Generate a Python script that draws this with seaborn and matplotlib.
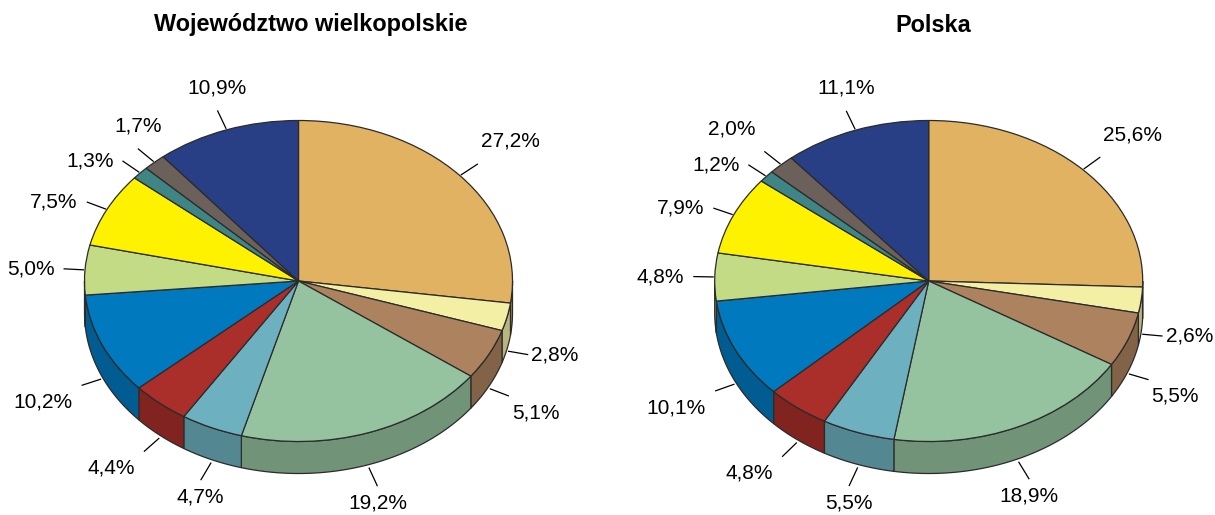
import numpy as np
import matplotlib
matplotlib.use('Agg')
import matplotlib.pyplot as plt
import seaborn as sns
from matplotlib.colors import to_rgb

W, H = 1215, 515

# data
titles = ['Województwo wielkopolskie', 'Polska']
wielkopolskie = [27.2, 2.8, 5.1, 19.2, 4.7, 4.4, 10.2, 5.0, 7.5, 1.3, 1.7, 10.9]
polska = [25.6, 2.6, 5.5, 18.9, 5.5, 4.8, 10.1, 4.8, 7.9, 1.2, 2.0, 11.1]
colors = ['#E1B261', '#F3EFA4', '#AD825E', '#95C39F', '#6DB1C0', '#AA2E29',
          '#0079BF', '#C3DB84', '#FFF200', '#3F8585', '#6C615A', '#283E85']

sns.set_style('white')
plt.rcParams['font.family'] = ['Liberation Sans', 'DejaVu Sans']

# pie geometry in pixels
RX, RY, DEPTH = 214.0, 160.5, 32.0
CY = 281
LEAD = 20.5
EDGE = '#2b2b2b'
panels = [(0, 607, 298.5, 311), (607, 1215, 928.7, 933.5)]

# a few labels were moved by hand in the original to avoid overlaps
overrides = [{9: ('right', 'center'), 10: ('center', 'bottom')},
             {9: ('right', 'center'), 10: ('right', 'bottom')}]

fig = plt.figure(figsize=(W / 100, H / 100), dpi=100)

for k, vals in enumerate([wielkopolskie, polska]):
    x0, x1, cx, tx = panels[k]
    ax = fig.add_axes([x0 / W, 0, (x1 - x0) / W, 1])
    wedges, _ = ax.pie(vals, colors=colors, startangle=90, counterclock=False,
                       wedgeprops=dict(edgecolor=EDGE, linewidth=0.9), frame=False)
    ax.set_aspect('auto')
    ax.set_xlim((x0 - cx) / RX, (x1 - cx) / RX)
    ax.set_ylim(-(H - CY) / RY, CY / RY)
    ax.axis('off')
    d = DEPTH / RY

    for i, w in enumerate(wedges):
        t1, t2 = w.theta1, w.theta2
        # side wall for the part of the slice facing the viewer
        s, e = max(t1, -180), min(t2, 0)
        if e > s:
            t = np.radians(np.linspace(s, e, 80))
            xs = np.concatenate([np.cos(t), np.cos(t[::-1])])
            ys = np.concatenate([np.sin(t), np.sin(t[::-1]) - d])
            side = tuple(c * 0.76 for c in to_rgb(colors[i]))
            ax.fill(xs, ys, facecolor=side, edgecolor=EDGE, linewidth=0.9, zorder=0.5)

        # leader line and label
        phi = np.radians((t1 + t2) / 2)
        ux, uy = RX * np.cos(phi), RY * np.sin(phi)
        n = np.hypot(ux, uy)
        ux, uy = ux / n, uy / n
        sx, sy = np.cos(phi), np.sin(phi)
        if sy < 0:
            sy -= d + 2 / RY
        sx += ux / RX
        sy += uy / RY
        ex, ey = sx + LEAD * ux / RX, sy + LEAD * uy / RY
        ax.plot([sx, ex], [sy, ey], color='black', linewidth=0.9,
                solid_capstyle='butt', clip_on=False)

        ha = 'left' if ux > 0.6 else ('right' if ux < -0.6 else 'center')
        va = 'bottom' if uy > 0.5 else ('top' if uy < -0.25 else 'center')
        ha, va = overrides[k].get(i, (ha, va))
        gx = {'left': 3, 'right': -9, 'center': 0}[ha]
        gy = {'bottom': 13, 'top': -7, 'center': 0}[va]
        label = f'{vals[i]:.1f}'.replace('.', ',') + '%'
        ax.text(ex + gx / RX, ey + gy / RY, label, ha=ha, va=va,
                fontsize=15, color='black')

    fig.text(tx / W, 1 - 25 / H, titles[k], ha='center', va='center',
             fontsize=16.9, fontweight='bold', color='black')

fig.savefig('out.png', dpi=100, facecolor='white')
